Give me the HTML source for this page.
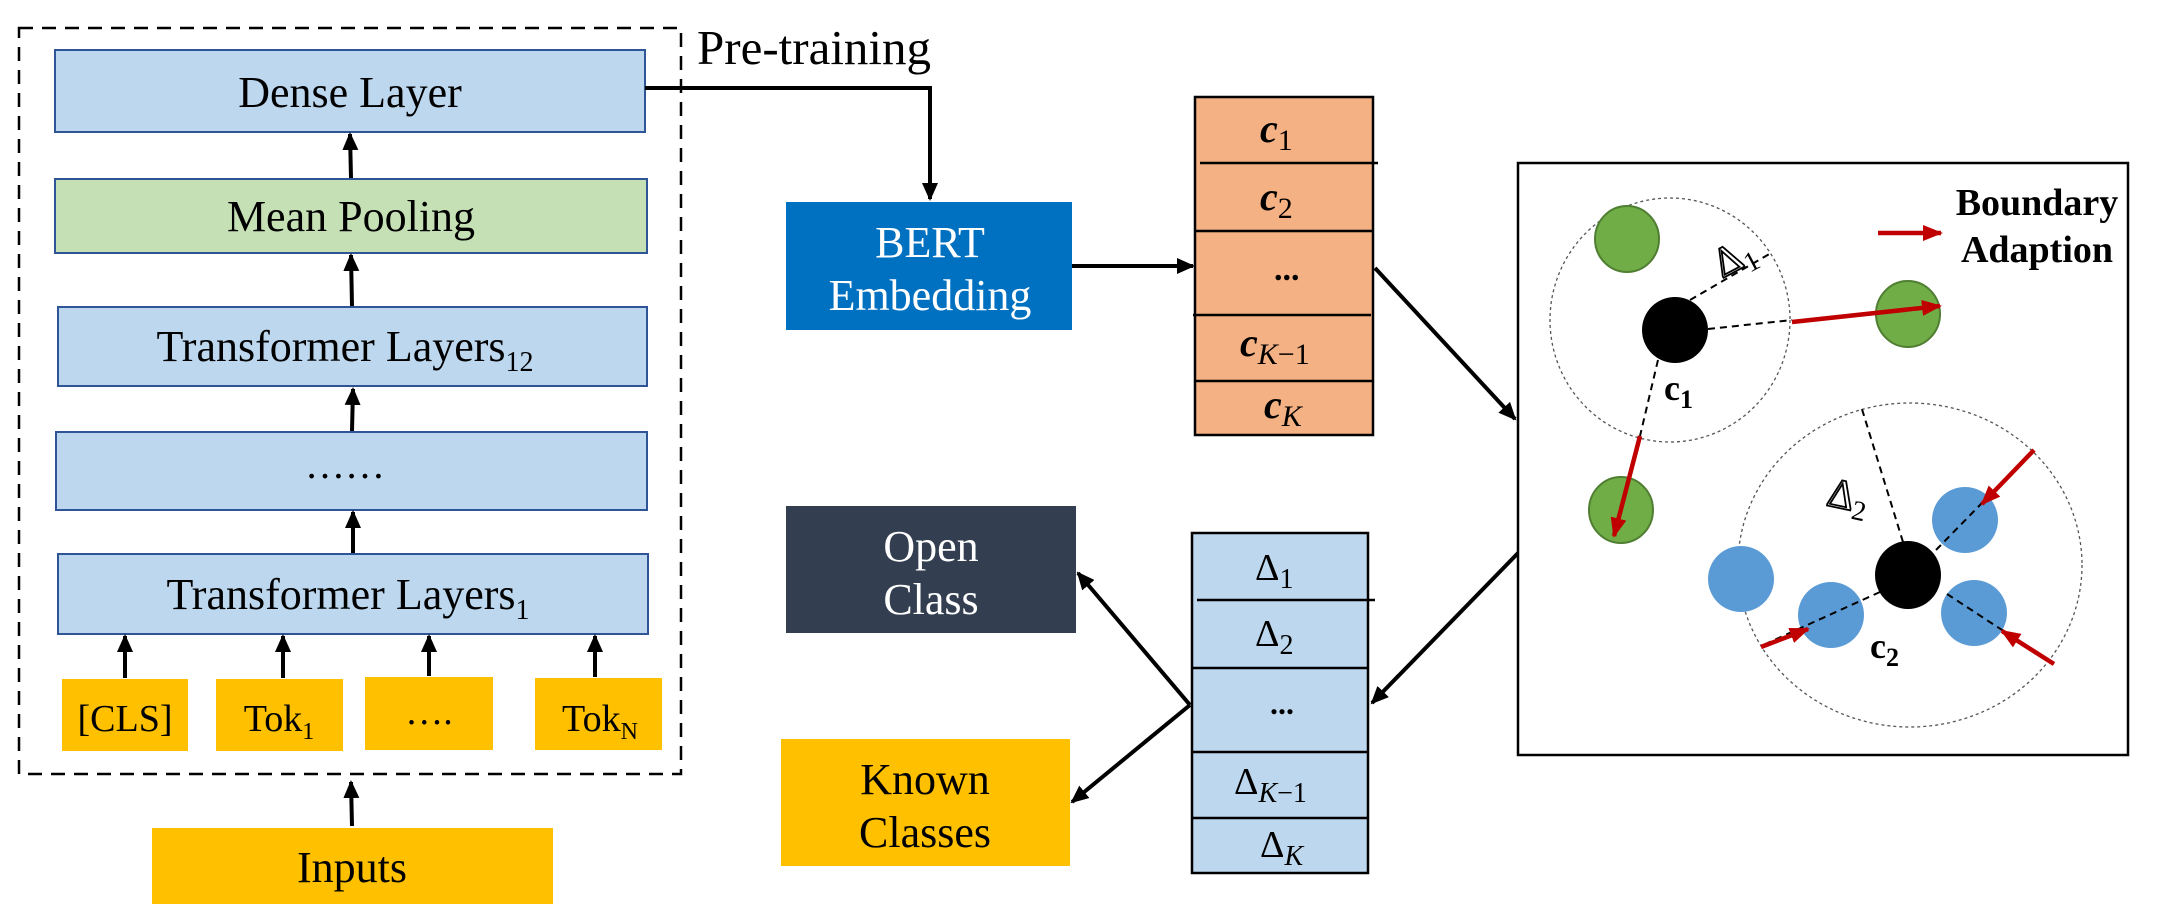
<!DOCTYPE html>
<html><head><meta charset="utf-8"><style>
html,body{margin:0;padding:0;background:#fff;}
svg{display:block;}
text{font-family:"Liberation Serif",serif;}
</style></head><body>
<svg width="2160" height="918" viewBox="0 0 2160 918" xmlns="http://www.w3.org/2000/svg">
<defs>
<marker id="ab" markerWidth="18" markerHeight="16" refX="16" refY="8" orient="auto" markerUnits="userSpaceOnUse"><path d="M0,0 L18,8 L0,16 z" fill="#000"/></marker>
<marker id="ar" markerWidth="20" markerHeight="16" refX="18" refY="8" orient="auto" markerUnits="userSpaceOnUse"><path d="M0,0 L20,8 L0,16 z" fill="#c00000"/></marker>
</defs>
<rect x="19" y="28" width="662" height="746" fill="none" stroke="#000" stroke-width="2.5" stroke-dasharray="14,9"/>
<rect x="55" y="50" width="590" height="82" fill="#bdd7ee" stroke="#2f5597" stroke-width="2"/>
<text x="350" y="107" font-size="44" text-anchor="middle">Dense Layer</text>
<rect x="55" y="179" width="592" height="74" fill="#c5e0b4" stroke="#2f5597" stroke-width="2"/>
<text x="351" y="231" font-size="44" text-anchor="middle">Mean Pooling</text>
<rect x="58" y="307" width="589" height="79" fill="#bdd7ee" stroke="#2f5597" stroke-width="2"/>
<text x="345" y="361" font-size="44" text-anchor="middle">Transformer Layers<tspan font-size="28" dy="10">12</tspan></text>
<rect x="56" y="432" width="591" height="78" fill="#bdd7ee" stroke="#2f5597" stroke-width="2"/>
<text x="345" y="478" font-size="40" text-anchor="middle">……</text>
<rect x="58" y="554" width="590" height="80" fill="#bdd7ee" stroke="#2f5597" stroke-width="2"/>
<text x="348" y="609" font-size="44" text-anchor="middle">Transformer Layers<tspan font-size="28" dy="10">1</tspan></text>
<rect x="62" y="679" width="126" height="72" fill="#ffc000"/>
<text x="125" y="731" font-size="38" text-anchor="middle">[CLS]</text>
<rect x="216" y="679" width="127" height="72" fill="#ffc000"/>
<text x="279" y="731" font-size="38" text-anchor="middle">Tok<tspan font-size="24" dy="8">1</tspan></text>
<rect x="365" y="677" width="128" height="73" fill="#ffc000"/>
<text x="429" y="724" font-size="38" text-anchor="middle">….</text>
<rect x="535" y="678" width="127" height="72" fill="#ffc000"/>
<text x="600" y="731" font-size="38" text-anchor="middle">Tok<tspan font-size="24" dy="8">N</tspan></text>
<rect x="152" y="828" width="401" height="76" fill="#ffc000"/>
<text x="352" y="882" font-size="44" text-anchor="middle">Inputs</text>
<g stroke="#000" stroke-width="4" marker-end="url(#ab)">
<line x1="351" y1="178" x2="350" y2="134"/>
<line x1="352" y1="306" x2="351" y2="255"/>
<line x1="352" y1="431" x2="353" y2="389"/>
<line x1="353" y1="553" x2="353" y2="512"/>
<line x1="125" y1="678" x2="125" y2="636"/>
<line x1="283" y1="678" x2="283" y2="636"/>
<line x1="429" y1="676" x2="429" y2="636"/>
<line x1="595" y1="677" x2="595" y2="636"/>
<line x1="352" y1="826" x2="351" y2="782"/>
</g>
<text x="697" y="64" font-size="49">Pre-training</text>
<polyline points="645,88 930,88 930,199" fill="none" stroke="#000" stroke-width="4" marker-end="url(#ab)"/>
<rect x="786" y="202" width="286" height="128" fill="#0070c0"/>
<text x="930" y="257" font-size="44" fill="#fff" text-anchor="middle">BERT</text>
<text x="930" y="310" font-size="44" fill="#fff" text-anchor="middle">Embedding</text>
<rect x="786" y="506" width="290" height="127" fill="#333f50"/>
<text x="931" y="561" font-size="44" fill="#fff" text-anchor="middle">Open</text>
<text x="931" y="614" font-size="44" fill="#fff" text-anchor="middle">Class</text>
<rect x="781" y="739" width="289" height="127" fill="#ffc000"/>
<text x="925" y="794" font-size="44" text-anchor="middle">Known</text>
<text x="925" y="847" font-size="44" text-anchor="middle">Classes</text>
<rect x="1195" y="97" width="178" height="338" fill="#f4b183" stroke="#000" stroke-width="2.5"/>
<g stroke="#000" stroke-width="2.5">
<line x1="1200" y1="163" x2="1378" y2="163"/>
<line x1="1195" y1="231" x2="1373" y2="231"/>
<line x1="1193" y1="315" x2="1371" y2="315"/>
<line x1="1195" y1="381" x2="1373" y2="381"/>
</g>
<g font-family="DejaVu Serif,serif" font-weight="bold" font-style="italic">
<text x="1260" y="142" font-size="40">c<tspan font-size="30" font-weight="normal" font-style="normal" dy="8">1</tspan></text>
<text x="1260" y="210" font-size="40">c<tspan font-size="30" font-weight="normal" font-style="normal" dy="8">2</tspan></text>
<text x="1274" y="280" font-size="34" font-style="normal">...</text>
<text x="1240" y="356" font-size="40">c<tspan font-size="30" font-weight="normal" dy="8">K</tspan><tspan font-size="30" font-weight="normal" font-style="normal">−1</tspan></text>
<text x="1264" y="418" font-size="40">c<tspan font-size="30" font-weight="normal" dy="8">K</tspan></text>
</g>
<rect x="1192" y="533" width="176" height="340" fill="#bdd7ee" stroke="#000" stroke-width="2.5"/>
<g stroke="#000" stroke-width="2.5">
<line x1="1197" y1="600" x2="1375" y2="600"/>
<line x1="1192" y1="668" x2="1368" y2="668"/>
<line x1="1192" y1="752" x2="1368" y2="752"/>
<line x1="1192" y1="818" x2="1368" y2="818"/>
</g>
<g font-family="DejaVu Sans,sans-serif">
<text x="1255" y="580" font-size="38">Δ<tspan font-size="28" dy="8">1</tspan></text>
<text x="1255" y="646" font-size="38">Δ<tspan font-size="28" dy="8">2</tspan></text>
<text x="1270" y="714" font-size="32" font-weight="bold">...</text>
<text x="1234" y="794" font-size="38">Δ<tspan font-size="28" font-style="italic" dy="8">K</tspan><tspan font-size="28">−1</tspan></text>
<text x="1260" y="857" font-size="38">Δ<tspan font-size="28" font-style="italic" dy="8">K</tspan></text>
</g>
<g stroke="#000" stroke-width="4" fill="none" marker-end="url(#ab)">
<line x1="1072" y1="266" x2="1193" y2="266"/>
<line x1="1375" y1="268" x2="1515" y2="419"/>
<line x1="1521" y1="550" x2="1372" y2="703"/>
<line x1="1190" y1="705" x2="1078" y2="573"/>
<line x1="1190" y1="705" x2="1072" y2="802"/>
</g>
<rect x="1518" y="163" width="610" height="592" fill="#fff" stroke="#000" stroke-width="2.5"/>
<ellipse cx="1670" cy="320" rx="120" ry="122" fill="none" stroke="#555" stroke-width="1.3" stroke-dasharray="3,3"/>
<ellipse cx="1910" cy="565" rx="172" ry="162" fill="none" stroke="#555" stroke-width="1.3" stroke-dasharray="3,3"/>
<g fill="#70ad47" stroke="#507e32" stroke-width="2">
<ellipse cx="1627" cy="239" rx="32" ry="33"/>
<ellipse cx="1908" cy="314" rx="32" ry="33"/>
<ellipse cx="1621" cy="510" rx="32" ry="33"/>
</g>
<g fill="#5b9bd5">
<ellipse cx="1741" cy="579" rx="33" ry="33"/>
<ellipse cx="1831" cy="615" rx="33" ry="33"/>
<ellipse cx="1965" cy="520" rx="33" ry="33"/>
<ellipse cx="1974" cy="613" rx="33" ry="33"/>
</g>
<ellipse cx="1675" cy="330" rx="33" ry="33" fill="#000"/>
<ellipse cx="1908" cy="575" rx="33" ry="34" fill="#000"/>
<g stroke="#000" stroke-width="2" stroke-dasharray="7,5" fill="none">
<line x1="1690" y1="300" x2="1771" y2="253"/>
<line x1="1708" y1="329" x2="1792" y2="320"/>
<line x1="1658" y1="360" x2="1640" y2="436"/>
<line x1="1903" y1="542" x2="1861" y2="406"/>
<line x1="1880" y1="592" x2="1761" y2="646"/>
<line x1="1936" y1="550" x2="1982" y2="503"/>
<line x1="1947" y1="594" x2="2054" y2="664"/>
</g>
<g stroke="#c00000" stroke-width="4.5" marker-end="url(#ar)">
<line x1="1792" y1="322" x2="1940" y2="306"/>
<line x1="1640" y1="436" x2="1614" y2="536"/>
<line x1="1761" y1="647" x2="1808" y2="629"/>
<line x1="2034" y1="450" x2="1982" y2="504"/>
<line x1="2054" y1="664" x2="2002" y2="631"/>
<line x1="1878" y1="233" x2="1941" y2="233"/>
</g>
<text x="1712" y="272" font-size="42" font-family="DejaVu Sans,sans-serif" transform="rotate(-28 1730 255)" fill="none" stroke="#000" stroke-width="1.8">Δ<tspan font-size="28" dy="8" fill="#000" stroke="none">1</tspan></text>
<text x="1828" y="510" font-size="42" font-family="DejaVu Sans,sans-serif" transform="rotate(12 1850 495)" fill="none" stroke="#000" stroke-width="1.8">Δ<tspan font-size="28" dy="8" fill="#000" stroke="none">2</tspan></text>
<text x="1664" y="400" font-size="36" font-weight="bold">c<tspan font-size="26" dy="8">1</tspan></text>
<text x="1870" y="658" font-size="36" font-weight="bold">c<tspan font-size="26" dy="8">2</tspan></text>
<text x="2037" y="215" font-size="38" font-weight="bold" text-anchor="middle">Boundary</text>
<text x="2037" y="262" font-size="38" font-weight="bold" text-anchor="middle">Adaption</text>
</svg>
</body></html>
